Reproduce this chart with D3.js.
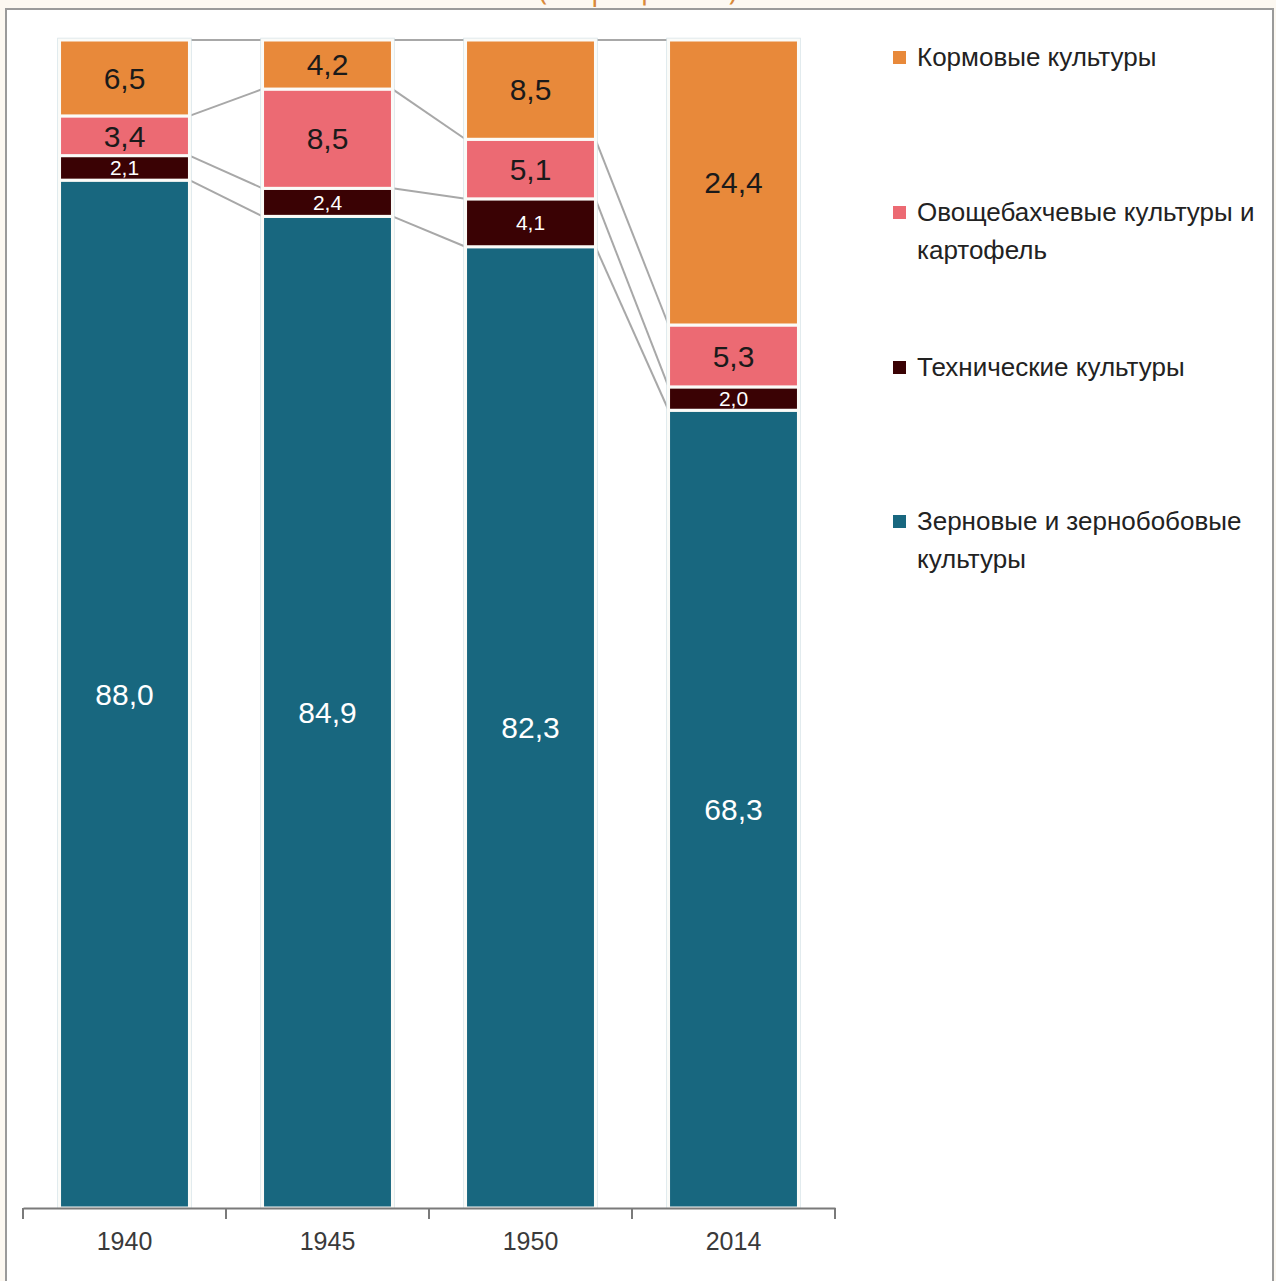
<!DOCTYPE html>
<meta charset="utf-8">
<style>
  body { margin: 0; background: #fcf8f1; }
  .narrow { font-family: 'Liberation Sans Narrow', 'Liberation Sans', 'DejaVu Sans', sans-serif; font-stretch: condensed; }
</style>
<script src="https://d3js.org/d3.v7.min.js"></script>
<div id="chart"></div>
<script>

// data
var years = ["1940", "1945", "1950", "2014"];
var seriesNames = [
  "Зерновые и зернобобовые культуры",
  "Технические культуры",
  "Овощебахчевые культуры и картофель",
  "Кормовые культуры"
];
var grain     = [88.0, 84.9, 82.3, 68.3];
var technical = [2.1, 2.4, 4.1, 2.0];
var vegetable = [3.4, 8.5, 5.1, 5.3];
var fodder    = [6.5, 4.2, 8.5, 24.4];
var colors = ["#18677f", "#3a0204", "#ec6a73", "#e8893a"];
var legendLines = [
  ["Зерновые и зернобобовые", "культуры"],
  ["Технические культуры"],
  ["Овощебахчевые культуры и", "картофель"],
  ["Кормовые культуры"]
];

var W = 1276, H = 1281;

var rows = years.map(function(y, i) {
  return { year: y, s0: grain[i], s1: technical[i], s2: vegetable[i], s3: fodder[i] };
});
var keys = ["s0", "s1", "s2", "s3"];
var stacked = d3.stack().keys(keys)(rows);

var svg = d3.select("#chart").append("svg")
  .attr("width", W)
  .attr("height", H);

// frame of the slide
svg.append("rect")
  .attr("x", 0).attr("y", 0).attr("width", W).attr("height", H)
  .attr("fill", "#fcf8f1");
svg.append("rect")
  .attr("x", 6).attr("y", 9).attr("width", W - 9).attr("height", H)
  .attr("fill", "#fff")
  .attr("stroke", "#9a9a9a")
  .attr("stroke-width", 2);

// title, cut by the top of the picture
svg.append("text")
  .attr("x", 638).attr("y", 0)
  .attr("text-anchor", "middle")
  .style("font-family", "'Open Sans', sans-serif")
  .style("font-size", "30px")
  .style("fill", "#d98a3a")
  .text("(в процентах)");

var x = d3.scaleBand()
  .domain(years)
  .range([23, 835])
  .paddingInner(0.36)
  .paddingOuter(0.18);

var y = d3.scaleLinear()
  .domain([0, 100])
  .range([1208, 40]);

// connectors between bars
var levels = [];
stacked.forEach(function(layer) {
  levels.push(layer.map(function(d) { return d[1]; }));
});
levels.forEach(function(lv) {
  for (var i = 0; i < years.length - 1; i++) {
    svg.append("line")
      .attr("x1", x(years[i]) + x.bandwidth())
      .attr("y1", y(lv[i]))
      .attr("x2", x(years[i + 1]))
      .attr("y2", y(lv[i + 1]))
      .attr("stroke", "#a8a8a8")
      .attr("stroke-width", 2);
  }
});

// bar outline shadow
svg.selectAll(".shadow")
  .data(years)
  .enter()
  .append("rect")
    .attr("x", function(d) { return x(d) - 1.5; })
    .attr("y", y(100) - 1.5)
    .attr("width", x.bandwidth() + 3)
    .attr("height", y(0) - y(100) + 1.5)
    .attr("fill", "none")
    .attr("stroke", "#d6e3e8")
    .attr("stroke-width", 1.5);

// stacked segments
var layers = svg.selectAll(".layer")
  .data(stacked)
  .enter()
  .append("g")
    .attr("fill", function(d, i) { return colors[i]; });

layers.selectAll("rect")
  .data(function(d) { return d; })
  .enter()
  .append("rect")
    .attr("x", function(d) { return x(d.data.year); })
    .attr("y", function(d) { return y(d[1]); })
    .attr("width", x.bandwidth())
    .attr("height", function(d) { return y(d[0]) - y(d[1]); })
    .attr("stroke", "#fbfbf8")
    .attr("stroke-width", 3);

// value labels
var fmt = function(v) { return v.toFixed(1).replace(".", ","); };
stacked.forEach(function(layer, li) {
  var dark = li === 2 || li === 3;
  var small = li === 1;
  svg.selectAll(".lbl" + li)
    .data(layer)
    .enter()
    .append("text")
      .attr("class", "narrow")
      .attr("x", function(d) { return x(d.data.year) + x.bandwidth() / 2; })
      .attr("y", function(d) { return (y(d[0]) + y(d[1])) / 2; })
      .attr("dy", "0.36em")
      .attr("text-anchor", "middle")
      .style("font-size", small ? "21px" : "30px")
      .style("fill", dark ? "#1a1a1a" : "#ffffff")
      .text(function(d) { return fmt(d[1] - d[0]); });
});

// x axis
var axis = svg.append("g")
  .attr("transform", "translate(0,1208)")
  .call(d3.axisBottom(x).tickSize(0).tickPadding(24));
axis.select(".domain").attr("stroke", "#7a7a7a").attr("stroke-width", 2);
axis.selectAll("text")
  .attr("class", "narrow")
  .style("font-size", "25px")
  .style("fill", "#3a3a3a");

var edges = d3.range(years.length + 1).map(function(i) { return 23 + i * x.step(); });
axis.selectAll(".edge")
  .data(edges)
  .enter()
  .append("line")
    .attr("x1", function(d) { return d; })
    .attr("x2", function(d) { return d; })
    .attr("y1", 0)
    .attr("y2", 11)
    .attr("stroke", "#7a7a7a")
    .attr("stroke-width", 2);

// legend (top item = last series)
var legendY = [521, 367, 212, 57];
seriesNames.forEach(function(name, i) {
  var g = svg.append("g").attr("transform", "translate(893," + legendY[i] + ")");
  g.append("rect")
    .attr("x", 0).attr("y", -6)
    .attr("width", 13).attr("height", 13)
    .attr("fill", colors[i]);
  legendLines[i].forEach(function(line, j) {
    g.append("text")
      .attr("class", "narrow")
      .attr("x", 24)
      .attr("y", 9 + j * 38)
      .style("font-size", "26px")
      .style("fill", "#222")
      .text(line);
  });
});

</script>
